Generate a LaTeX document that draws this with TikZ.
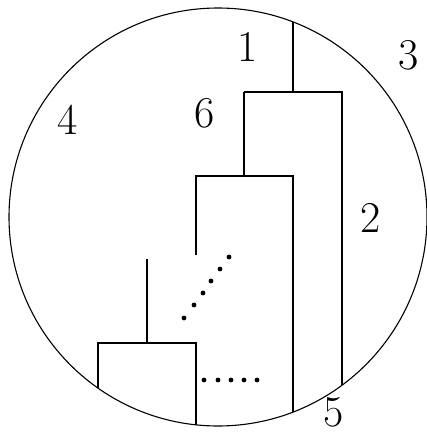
\documentclass[tikz,border=0pt]{standalone}
\begin{document}
\begin{tikzpicture}[x=1pt,y=-1pt,
  ln/.style={line width=1.1pt,line cap=butt},
  lbl/.style={font=\fontsize{44}{52}\selectfont,inner sep=0pt},
  dotmark/.style={circle,fill=black,inner sep=0pt,minimum size=4.8pt}]
\useasboundingbox (0,0) rectangle (427,434);
\coordinate (c) at (218,217);
\draw[ln] (c) circle[radius=209];
% tree
\coordinate (t0) at (293,21.9);
\coordinate (t1) at (293,92);
\coordinate (a1) at (244,92);
\coordinate (a2) at (342,92);
\coordinate (a2b) at (342,385.2);
\coordinate (b1) at (244,176);
\coordinate (b0) at (196,176);
\coordinate (b2) at (293,176);
\coordinate (b2b) at (293,412.1);
\coordinate (b0e) at (196,255);
\coordinate (d0) at (147,259);
\coordinate (d1) at (147,343);
\coordinate (d2) at (98,343);
\coordinate (d3) at (196,343);
\coordinate (d2b) at (98,388.1);
\coordinate (d3b) at (196,424.8);
\draw[ln] (t0) -- (t1);
\draw[ln] (a1) -- (a2) -- (a2b);
\draw[ln] (b0e) -- (b0) -- (b2) -- (b2b);
\draw[ln] (b1) -- (a1);
\draw[ln] (d0) -- (d1);
\draw[ln] (d2b) -- (d2) -- (d3) -- (d3b);
% dots
\foreach \i/\x/\y in {1/184/318,2/194/305,3/203/293,4/211/281,5/220/269,6/229/257}
  \node[dotmark] (g\i) at (\x,\y) {};
\foreach \i/\x in {1/204,2/218,3/231,4/244,5/257}
  \node[dotmark] (h\i) at (\x,380) {};
% labels
\node[lbl] (l1) at (248,47) {1};
\node[lbl] (l3) at (409,55) {3};
\node[lbl] (l4) at (68,120) {4};
\node[lbl] (l6) at (205,113) {6};
\node[lbl] (l2) at (371,218) {2};
\node[lbl] (l5) at (334,412) {5};
\end{tikzpicture}
\end{document}
